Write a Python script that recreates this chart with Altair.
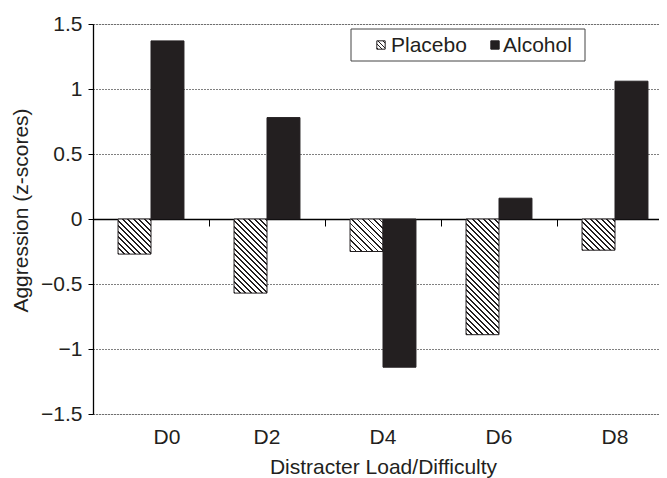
import altair as alt
import pandas as pd

categories = ["D0", "D2", "D4", "D6", "D8"]
groups = ["Placebo", "Alcohol"]
placebo = [-0.27, -0.57, -0.25, -0.89, -0.24]
alcohol = [1.37, 0.78, -1.14, 0.16, 1.06]
y_ticks = [-1.5, -1, -0.5, 0, 0.5, 1, 1.5]
y_title = "Aggression (z-scores)"
x_title = "Distracter Load/Difficulty"

INK = "#231f20"
FONT = "Liberation Sans"
FS = 21
W_VIEW = 566
W_RANGE = 580
H = 390
PX_PER_UNIT = H / 3.0
BAR_W = W_RANGE / 5 / (2 + 2 * 0.76)


def hatch(w, h, period=5.5, line=1.8):
    k = (w + h) / (w * w + h * h)
    span = w + h
    stops = []
    pos = 0.0
    while pos < span:
        a = round(pos / span, 4)
        b = round(min((pos + line) / span, 1.0), 4)
        n = round(min((pos + period) / span, 1.0), 4)
        stops += [
            {"offset": a, "color": INK},
            {"offset": b, "color": INK},
            {"offset": b, "color": "white"},
            {"offset": n, "color": "white"},
        ]
        pos += period
    return {"gradient": "linear", "x1": 0, "y1": 1,
            "x2": round(w * k, 4), "y2": round(1 - h * k, 4), "stops": stops}


rows = []
for c, p, a in zip(categories, placebo, alcohol):
    rows.append({"cat": c, "group": groups[0], "value": p})
    rows.append({"cat": c, "group": groups[1], "value": a})
df = pd.DataFrame(rows)

fill_conditions = [
    {"test": f"datum.group === '{groups[0]}' && datum.cat === '{c}'",
     "value": hatch(BAR_W, abs(v) * PX_PER_UNIT)}
    for c, v in zip(categories, placebo)
]

bars = alt.Chart(df).mark_bar(stroke=INK, strokeWidth=1).encode(
    x=alt.X(
        "cat:N", sort=categories,
        scale=alt.Scale(domain=categories, paddingInner=0, paddingOuter=0, range=[0, W_RANGE]),
        axis=alt.Axis(
            title=x_title, orient="bottom", offset=-H / 2, domain=True, domainColor="black",
            domainWidth=1.3, ticks=True, tickSize=7, tickColor="black", tickWidth=1,
            bandPosition=0, labelAngle=0, labelFontSize=FS, labelFont=FONT, labelColor=INK,
            labelBaseline="alphabetic", labelPadding=217,
            labelOffset={"condition": {"test": f"datum.value === '{categories[0]}'", "value": 16}, "value": 0},
            titleFontSize=FS, titleFont=FONT, titleFontWeight="normal", titleColor=INK,
            titleBaseline="alphabetic", titleX=290, titleY=254, grid=False,
        ),
    ),
    xOffset=alt.XOffset(
        "group:N", sort=groups,
        scale=alt.Scale(domain=groups, paddingInner=0, paddingOuter=0.76),
    ),
    y=alt.Y(
        "value:Q",
        scale=alt.Scale(domain=[-1.5, 1.5], nice=False, zero=False),
        axis=alt.Axis(
            title=y_title, values=y_ticks, format="~g", domain=True, domainColor="black",
            domainWidth=1.3, ticks=True, tickSize=5, tickColor="black", grid=True,
            gridColor="black", gridDash=[1, 2], gridWidth=1, labelFontSize=FS, labelFont=FONT,
            labelColor=INK, labelPadding=6, titleFontSize=FS, titleFont=FONT,
            titleFontWeight="normal", titleColor=INK, titleBaseline="alphabetic",
            titleX=-66, titleY=186,
        ),
    ),
    fill=alt.value(INK, condition=fill_conditions),
)

one = pd.DataFrame({"k": [0]})
legend_box = alt.Chart(one).mark_rect(fill="white", stroke="#444444", strokeWidth=1).encode(
    x=alt.value(258), x2=alt.value(492), y=alt.value(5), y2=alt.value(37)
)
leg_sym_p = alt.Chart(one).mark_square(size=70, stroke=INK, strokeWidth=1, opacity=1).encode(
    x=alt.value(288), y=alt.value(21), fill=alt.value(hatch(8.4, 8.4, period=4.5, line=1.4))
)
leg_sym_a = alt.Chart(one).mark_square(size=70, stroke=INK, strokeWidth=1, opacity=1).encode(
    x=alt.value(402), y=alt.value(21), fill=alt.value(INK)
)
leg_txt_p = alt.Chart(one).mark_text(
    align="left", baseline="alphabetic", fontSize=FS, font=FONT, color=INK
).encode(x=alt.value(298), y=alt.value(28), text=alt.value(groups[0]))
leg_txt_a = alt.Chart(one).mark_text(
    align="left", baseline="alphabetic", fontSize=FS, font=FONT, color=INK
).encode(x=alt.value(410), y=alt.value(28), text=alt.value(groups[1]))

chart = alt.layer(bars, legend_box, leg_sym_p, leg_sym_a, leg_txt_p, leg_txt_a).properties(
    width=W_VIEW, height=H,
    autosize=alt.AutoSizeParams(type="none"),
    padding={"left": 85, "top": 16, "right": 0, "bottom": 64},
).configure_view(stroke=None).configure(background="white")

chart.save("out.html", embed_options={"renderer": "svg", "actions": False})
